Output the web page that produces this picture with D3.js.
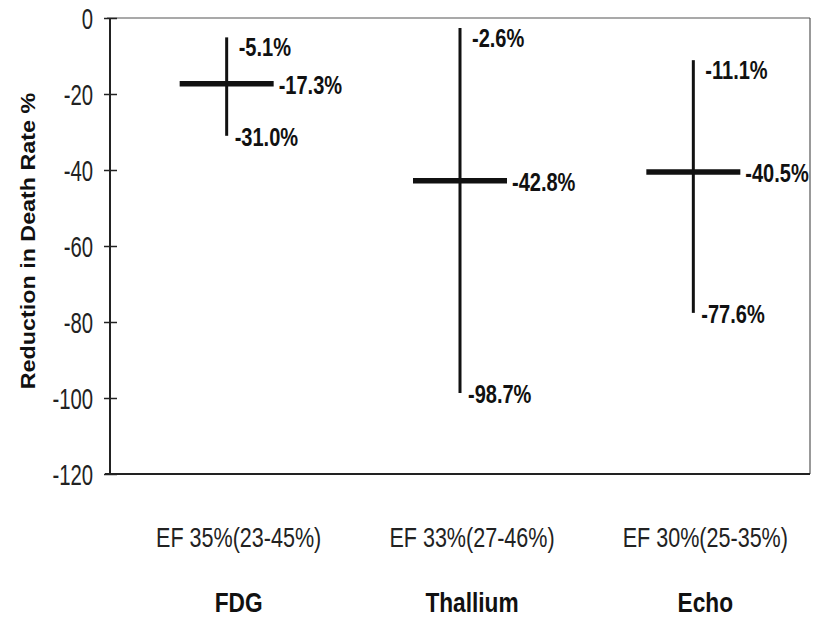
<!DOCTYPE html>
<html>
<head>
<meta charset="utf-8">
<script src="https://cdn.jsdelivr.net/npm/d3@7"></script>
<style>
  body { margin: 0; background: #fff; }
  text { font-family: "Liberation Sans", Arial, sans-serif; fill: #111; }
</style>
</head>
<body>
<div id="chart"></div>
<script>
// data
const methods = ["FDG", "Thallium", "Echo"];
const efLabels = ["EF 35%(23-45%)", "EF 33%(27-46%)", "EF 30%(25-35%)"];
const meanReduction = [-17.3, -42.8, -40.5];
const upperBound = [-5.1, -2.6, -11.1];
const lowerBound = [-31.0, -98.7, -77.6];
const yTicks = [0, -20, -40, -60, -80, -100, -120];

const width = 823, height = 618;
const plot = {left: 110, right: 810, top: 18, bottom: 474};

const svg = d3.select("#chart").append("svg")
    .attr("width", width)
    .attr("height", height);

const x = d3.scalePoint()
    .domain(methods)
    .range([plot.left, plot.right])
    .padding(0.5);

const y = d3.scaleLinear()
    .domain([-120, 0])
    .range([plot.bottom, plot.top]);

// text helper: the scan is squeezed sideways, so squeeze the glyphs too
function putText(g, str, px, py, opts) {
    return g.append("text")
        .attr("transform", "translate(" + px + "," + py + ") scale(" + (opts.sx || 1) + ",1)")
        .attr("text-anchor", opts.anchor || "start")
        .attr("dominant-baseline", opts.baseline || "auto")
        .style("font-size", opts.size + "px")
        .style("font-weight", opts.bold ? "bold" : "normal")
        .text(str);
}

// frame: thin top and right, heavier left and bottom
svg.append("line")
    .attr("x1", plot.left - 3).attr("x2", plot.right)
    .attr("y1", plot.top).attr("y2", plot.top)
    .attr("stroke", "#555").attr("stroke-width", 1.2);
svg.append("line")
    .attr("x1", plot.right).attr("x2", plot.right)
    .attr("y1", plot.top).attr("y2", plot.bottom)
    .attr("stroke", "#555").attr("stroke-width", 1.2);
svg.append("line")
    .attr("x1", plot.left - 5).attr("x2", plot.right)
    .attr("y1", plot.bottom).attr("y2", plot.bottom)
    .attr("stroke", "#222").attr("stroke-width", 2);

// y axis
const yAxis = svg.append("g")
    .attr("transform", "translate(" + plot.left + ",0)")
    .call(d3.axisLeft(y).tickValues(yTicks).tickSize(6));
yAxis.select(".domain").remove();
yAxis.selectAll(".tick line")
    .attr("x1", 7).attr("x2", -6)
    .attr("stroke", "#222").attr("stroke-width", 1.5);
yAxis.selectAll(".tick text").remove();
yAxis.append("line")
    .attr("x1", 0).attr("x2", 0)
    .attr("y1", plot.top).attr("y2", plot.bottom)
    .attr("stroke", "#222").attr("stroke-width", 2);

yTicks.forEach(function (t) {
    putText(svg, String(t), 93, y(t) + 1, {anchor: "end", baseline: "central", size: 29, sx: 0.7})
        .style("fill", "#222");
});

// axis title
svg.append("text")
    .attr("transform", "translate(28,241) rotate(-90) scale(1.11,1)")
    .attr("text-anchor", "middle")
    .attr("dominant-baseline", "central")
    .style("font-size", "21px")
    .style("font-weight", "bold")
    .text("Reduction in Death Rate %");

// whiskers and mean bars
const halfBar = 47;
const marks = svg.append("g").attr("id", "marks");
const fmt = function (v) { return v.toFixed(1) + "%"; };
const lab = {baseline: "central", size: 26, sx: 0.77, bold: true};

methods.forEach(function (m, i) {
    const cx = x(m);
    marks.append("line")
        .attr("x1", cx).attr("x2", cx)
        .attr("y1", y(upperBound[i])).attr("y2", y(lowerBound[i]))
        .attr("stroke", "#111").attr("stroke-width", 3);
    marks.append("line")
        .attr("x1", cx - halfBar).attr("x2", cx + halfBar)
        .attr("y1", y(meanReduction[i])).attr("y2", y(meanReduction[i]))
        .attr("stroke", "#111").attr("stroke-width", 5.5);

    putText(marks, fmt(upperBound[i]), cx + 12, y(upperBound[i]) + 10, lab);
    putText(marks, fmt(meanReduction[i]), cx + halfBar + 5, y(meanReduction[i]) + 1, lab);
    putText(marks, fmt(lowerBound[i]), cx + 8, y(lowerBound[i]) + 1, lab);

    // category labels under the frame
    putText(svg, efLabels[i], cx + 12, 547, {anchor: "middle", size: 28, sx: 0.77})
        .style("fill", "#222");
    putText(svg, m, cx + 12, 612, {anchor: "middle", size: 28, sx: 0.81, bold: true});
});
</script>
</body>
</html>
